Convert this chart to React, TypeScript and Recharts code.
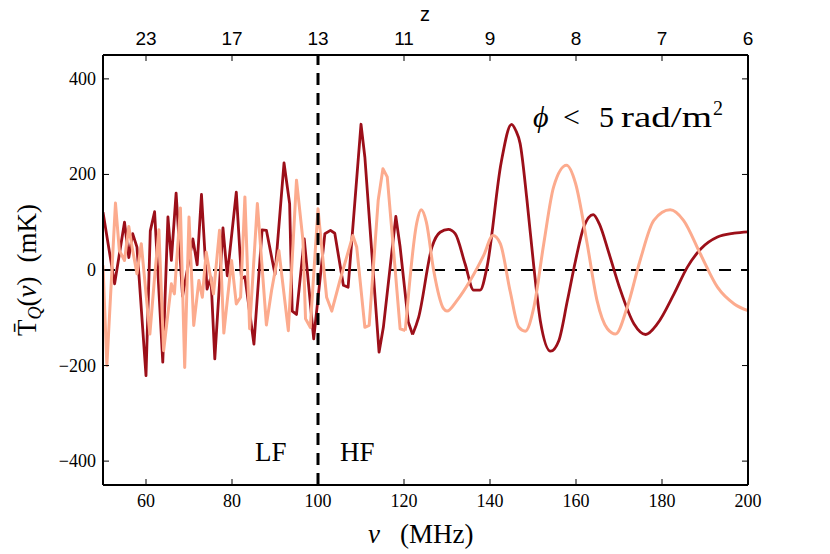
import React from 'react';
import { LineChart, Line, XAxis, YAxis, ReferenceLine } from 'recharts';

// Dark red series (nu in MHz, T in mK)
const darkNu = [50, 52.7, 55.0, 56.0, 56.9, 57.9, 60.0, 61.0, 62.0, 63.9, 65.1, 65.9, 67.0, 68.5, 70.9, 71.9, 72.9, 74.2, 75.1, 76.0, 77.9, 78.9, 81.0, 82.2, 83.0, 85.1, 87.0, 88.0, 90.0, 92.1, 93.4, 94.0, 95.0, 96.8, 99.0, 101.6, 102.9, 103.9, 105.9, 107.0, 110.0, 110.9, 114.2, 115.2, 118.1, 119.1, 121.0, 122.0, 123.4, 126.5, 128.4, 130.3, 131.9, 134.2, 136.2, 137.7, 139.3, 142.6, 145.0, 146.0, 147.0, 148.6, 150.2, 151.7, 154.1, 156.0, 158.0, 159.9, 161.8, 164.0, 165.4, 167.7, 170.1, 173.5, 176.2, 178.9, 182.8, 185.9, 189.0, 192.9, 196.8, 200];
const darkT = [121, -29, 100, 26, 76, 48, -221, 82, 122, -193, 111, 20, 161, -55, 65, 11, 158, -40, -15, -186, 88, -12, 163, -18, -14, -155, 84, 83, -9, 224, 139, -86, -93, 65, -144, 76, 83, 77, -32, -36, 305, 236, -172, -120, 112, 48, -109, -135, -99, 48, 79, 85, 76, 13, -42, -42, 6, 225, 305, 292, 265, 146, 6, -106, -170, -148, -64, 20, 90, 116, 97, 34, -36, -113, -135, -113, -50, 6, 44, 69, 77, 80];

// Light (salmon) series
const lightNu = [50, 50.9, 52.9, 53.8, 55.0, 56.0, 56.9, 57.9, 58.9, 60.9, 62.0, 63.0, 64.1, 65.9, 66.6, 68.0, 69.0, 70.0, 71.1, 72.3, 73.1, 74.0, 75.7, 77.1, 78.1, 79.9, 81.0, 82.0, 83.0, 84.1, 85.9, 88.0, 89.2, 90.9, 93.1, 95.0, 96.5, 97.1, 98.2, 100.0, 102.0, 103.2, 105.1, 108.1, 109.0, 110.9, 111.9, 114.0, 115.1, 116.1, 117.9, 119.1, 120.3, 123.0, 124.0, 125.2, 126.9, 129.2, 130.0, 132.3, 135.4, 138.5, 140.7, 142.4, 144.7, 146.7, 148.2, 150.2, 152.5, 154.8, 157.8, 159.9, 162.6, 164.9, 167.3, 169.2, 171.9, 174.9, 178.1, 181.9, 185.0, 188.9, 192.9, 196.8, 200];
const lightT = [10, -200, 140, 41, 20, 91, 41, -8, 55, -134, -15, 84, -169, -29, -50, 130, -204, 111, -116, -22, -57, 37, -50, 83, -132, 20, -71, -57, 153, -123, 139, -115, -43, 41, -127, 188, 62, -102, -120, 128, -57, -86, -22, 72, 48, -120, -116, 146, 212, 195, 6, -123, -127, 100, 126, 100, -1, -81, -86, -64, -22, 30, 72, 55, -45, -120, -128, -78, 55, 174, 219, 181, 55, -64, -123, -134, -78, 20, 104, 126, 104, 34, -36, -71, -85];

const nuTicks = [60, 80, 100, 120, 140, 160, 180, 200];
const zTickLabels = ['23', '17', '13', '11', '9', '8', '7', '6'];
const tTicks = [-400, -200, 0, 200, 400];

// frequency where each curve turns from jagged to smooth sampling
const darkSmoothFrom = 122.0;
const lightSmoothFrom = 120.3;

const darkData = darkNu.map((nu, i) => ({ nu, t: darkT[i] }));
const lightData = lightNu.map((nu, i) => ({ nu, t: lightT[i] }));
const darkLF = darkData.filter((d) => d.nu <= darkSmoothFrom);
const darkHF = darkData.filter((d) => d.nu >= darkSmoothFrom);
const lightLF = lightData.filter((d) => d.nu <= lightSmoothFrom);
const lightHF = lightData.filter((d) => d.nu >= lightSmoothFrom);

const SERIF = '"Liberation Serif", "DejaVu Serif", serif';
const SANS_N = '"Liberation Sans Narrow", "Liberation Sans", Arial, sans-serif';
const DARK = '#9c0f19';
const LIGHT = '#fcab8e';

const fmtNum = (v: number) => (v < 0 ? '\u2212' + Math.abs(v) : String(v));

const BottomTick = (props: any) => {
  const { x, y, payload } = props;
  return (
    <g>
      <line x1={x} x2={x} y1={y} y2={y - 6} stroke="#000" strokeWidth={1} />
      <text x={x} y={y + 22} textAnchor="middle" fontFamily={SERIF} style={{ fontFamily: SERIF }} fontSize={18} fill="#000">
        {payload.value}
      </text>
    </g>
  );
};

const TopTick = (props: any) => {
  const { x, y, payload, index } = props;
  const idx = nuTicks.indexOf(payload.value);
  return (
    <g>
      <line x1={x} x2={x} y1={y} y2={y + 6} stroke="#000" strokeWidth={1} />
      <text x={x} y={y - 10} textAnchor="middle" fontFamily={SANS_N} style={{ fontFamily: SANS_N }} fontSize={19} fill="#000">
        {zTickLabels[idx >= 0 ? idx : index]}
      </text>
    </g>
  );
};

const LeftTick = (props: any) => {
  const { x, y, payload } = props;
  return (
    <g>
      <line x1={x} x2={x + 6} y1={y} y2={y} stroke="#000" strokeWidth={1} />
      <text x={x - 7} y={y + 6} textAnchor="end" fontFamily={SERIF} style={{ fontFamily: SERIF }} fontSize={18} fill="#000">
        {fmtNum(payload.value)}
      </text>
    </g>
  );
};

const RightTick = (props: any) => {
  const { x, y } = props;
  return <line x1={x} x2={x - 6} y1={y} y2={y} stroke="#000" strokeWidth={1} />;
};

const lineCommon = {
  xAxisId: 'b',
  yAxisId: 'l',
  dataKey: 't',
  dot: false,
  isAnimationActive: false,
} as const;

export default function App() {
  return (
    <div style={{ position: 'absolute', left: 0, top: 0, width: 830, height: 554, background: '#fff' }}>
      <LineChart
        width={830}
        height={554}
        margin={{ top: 25, right: 72, bottom: 39, left: 43 }}
      >
        <XAxis
          xAxisId="b"
          dataKey="nu"
          type="number"
          domain={[50, 200]}
          ticks={nuTicks}
          allowDataOverflow
          orientation="bottom"
          height={30}
          tickSize={0}
          tickMargin={0}
          tickLine={false}
          axisLine={{ stroke: '#000', strokeWidth: 2 }}
          tick={<BottomTick />}
          interval={0}
        />
        <XAxis
          xAxisId="t"
          dataKey="nu"
          type="number"
          domain={[50, 200]}
          ticks={nuTicks}
          allowDataOverflow
          orientation="top"
          height={30}
          tickSize={0}
          tickMargin={0}
          tickLine={false}
          axisLine={{ stroke: '#000', strokeWidth: 2 }}
          tick={<TopTick />}
          interval={0}
        />
        <YAxis
          yAxisId="l"
          type="number"
          domain={[-450, 450]}
          ticks={tTicks}
          allowDataOverflow
          orientation="left"
          width={60}
          tickSize={0}
          tickMargin={0}
          tickLine={false}
          axisLine={{ stroke: '#000', strokeWidth: 2 }}
          tick={<LeftTick />}
          interval={0}
        />
        <YAxis
          yAxisId="r"
          type="number"
          domain={[-450, 450]}
          ticks={tTicks}
          allowDataOverflow
          orientation="right"
          width={10}
          tickSize={0}
          tickMargin={0}
          tickLine={false}
          axisLine={{ stroke: '#000', strokeWidth: 2 }}
          tick={<RightTick />}
          interval={0}
        />
        <ReferenceLine xAxisId="b" yAxisId="l" y={0} stroke="#000" strokeWidth={2} strokeDasharray="12 10" />
        <Line {...lineCommon} data={darkLF} type="linear" stroke={DARK} strokeWidth={2.8} strokeLinejoin="round" />
        <Line {...lineCommon} data={darkHF} type="monotone" stroke={DARK} strokeWidth={2.8} strokeLinejoin="round" />
        <Line {...lineCommon} data={lightLF} type="linear" stroke={LIGHT} strokeWidth={3} strokeLinejoin="round" />
        <Line {...lineCommon} data={lightHF} type="monotone" stroke={LIGHT} strokeWidth={3} strokeLinejoin="round" />
        <ReferenceLine xAxisId="b" yAxisId="l" x={100} stroke="#000" strokeWidth={3} strokeDasharray="12 8" />
      </LineChart>
      <svg
        width={830}
        height={554}
        style={{ position: 'absolute', left: 0, top: 0, pointerEvents: 'none' }}
      >
        <text x={425} y={21} textAnchor="middle" fontFamily={SANS_N} fontSize={20} fill="#000">z</text>
        <text y={127} fontFamily={SERIF} fontSize={30} fill="#000">
          <tspan x={533} fontStyle="italic">ϕ</tspan>
          <tspan x={563}>&lt;</tspan>
          <tspan x={599}>5</tspan>
          <tspan x={621} textLength={91} lengthAdjust="spacingAndGlyphs">rad/m</tspan>
          <tspan x={713} dy={-12} fontSize={20}>2</tspan>
        </text>
        <text x={255} y={461} fontFamily={SERIF} fontSize={27} fill="#000">LF</text>
        <text x={340} y={461} fontFamily={SERIF} fontSize={27} fill="#000">HF</text>
        <text y={543} fontFamily={SERIF} fontSize={27} fill="#000">
          <tspan x={368} fontStyle="italic">ν</tspan>
          <tspan x={400}>(MHz)</tspan>
        </text>
        <text transform="rotate(-90 36 270)" x={36} y={270} textAnchor="middle" fontFamily={SERIF} fontSize={27} fill="#000">
          <tspan>T&#x0304;</tspan>
          <tspan fontStyle="italic" fontSize={18} dy={5}>Q</tspan>
          <tspan dy={-5}>(</tspan>
          <tspan fontStyle="italic">ν</tspan>
          <tspan>)</tspan>
          <tspan dx={14}>(mK)</tspan>
        </text>
      </svg>
    </div>
  );
}
